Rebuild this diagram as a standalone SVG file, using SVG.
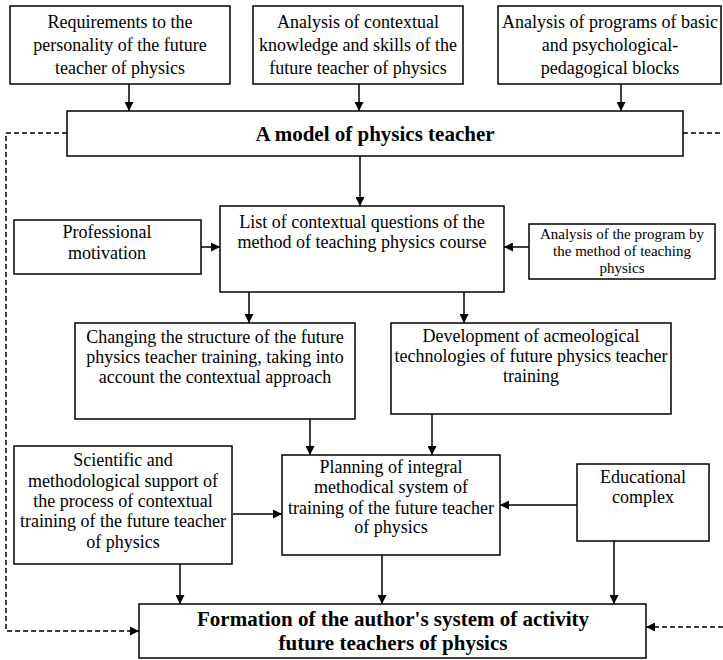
<svg xmlns="http://www.w3.org/2000/svg" width="723" height="660" viewBox="0 0 723 660">
<style>
.box{fill:#fff;stroke:#000;stroke-width:1.5}
.t{font-family:"Liberation Serif","Times New Roman",serif;font-size:18px;text-anchor:middle;fill:#000}
.s{font-size:15px}
.b{font-size:21px;font-weight:bold}
.c{stroke:#000;stroke-width:1.5;fill:none}
.d{stroke-dasharray:5,3}
</style>
<defs>
<marker id="ah" viewBox="0 0 10 10" markerUnits="userSpaceOnUse" markerWidth="9" markerHeight="9" refX="10" refY="5" orient="auto">
<path d="M0,0 L10,5 L0,10 Z" fill="#000"/>
</marker>
</defs>
<rect width="723" height="660" fill="#fff"/>
<g id="connectors">
<line class="c" x1="129" y1="84" x2="129" y2="111" marker-end="url(#ah)"/>
<line class="c" x1="359" y1="84" x2="359" y2="111" marker-end="url(#ah)"/>
<line class="c" x1="621" y1="84" x2="621" y2="111" marker-end="url(#ah)"/>
<line class="c" x1="360" y1="156" x2="360" y2="206" marker-end="url(#ah)"/>
<line class="c" x1="201" y1="247" x2="220" y2="247" marker-end="url(#ah)"/>
<line class="c" x1="529" y1="247" x2="504" y2="247" marker-end="url(#ah)"/>
<line class="c" x1="249" y1="292" x2="249" y2="323" marker-end="url(#ah)"/>
<line class="c" x1="464" y1="292" x2="464" y2="323" marker-end="url(#ah)"/>
<line class="c" x1="310" y1="419" x2="310" y2="455" marker-end="url(#ah)"/>
<line class="c" x1="432" y1="414" x2="432" y2="455" marker-end="url(#ah)"/>
<line class="c" x1="233" y1="514" x2="282" y2="514" marker-end="url(#ah)"/>
<line class="c" x1="577" y1="505" x2="500" y2="505" marker-end="url(#ah)"/>
<line class="c" x1="180" y1="564" x2="180" y2="604" marker-end="url(#ah)"/>
<line class="c" x1="382" y1="555" x2="382" y2="604" marker-end="url(#ah)"/>
<line class="c" x1="614" y1="541" x2="614" y2="604" marker-end="url(#ah)"/>
<polyline class="c d" points="67,133 6,133 6,631 139,631" marker-end="url(#ah)"/>
<line class="c d" x1="683" y1="133" x2="723" y2="133"/>
<line class="c d" x1="723" y1="627" x2="646" y2="627" marker-end="url(#ah)"/>
</g>
<g id="req">
<rect class="box" x="10" y="6" width="220" height="78"/>
<text class="t" x="120" y="28">Requirements to the</text>
<text class="t" x="120" y="51">personality of the future</text>
<text class="t" x="120" y="74">teacher of physics</text>
</g>
<g id="ctx">
<rect class="box" x="253" y="6" width="210" height="78"/>
<text class="t" x="358" y="28">Analysis of contextual</text>
<text class="t" x="358" y="51">knowledge and skills of the</text>
<text class="t" x="358" y="74">future teacher of physics</text>
</g>
<g id="prog">
<rect class="box" x="498" y="6" width="223" height="78"/>
<text class="t" x="610" y="28">Analysis of programs of basic</text>
<text class="t" x="610" y="51">and psychological-</text>
<text class="t" x="610" y="74">pedagogical blocks</text>
</g>
<g id="model">
<rect class="box" x="67" y="111" width="616" height="45"/>
<text class="t b" x="375" y="141">A model of physics teacher</text>
</g>
<g id="motiv">
<rect class="box" x="14" y="220" width="187" height="54"/>
<text class="t" x="107" y="238">Professional</text>
<text class="t" x="107" y="259">motivation</text>
</g>
<g id="list">
<rect class="box" x="220" y="206" width="284" height="86"/>
<text class="t" x="362" y="228">List of contextual questions of the</text>
<text class="t" x="362" y="248">method of teaching physics course</text>
</g>
<g id="method">
<rect class="box" x="529" y="224" width="186" height="55"/>
<text class="t s" x="622" y="239">Analysis of the program by</text>
<text class="t s" x="622" y="256">the method of teaching</text>
<text class="t s" x="622" y="273">physics</text>
</g>
<g id="changing">
<rect class="box" x="75" y="323" width="280" height="96"/>
<text class="t" x="215" y="343">Changing the structure of the future</text>
<text class="t" x="215" y="363">physics teacher training, taking into</text>
<text class="t" x="215" y="383">account the contextual approach</text>
</g>
<g id="development">
<rect class="box" x="391" y="323" width="280" height="91"/>
<text class="t" x="531" y="342">Development of acmeological</text>
<text class="t" x="531" y="362">technologies of future physics teacher</text>
<text class="t" x="531" y="382">training</text>
</g>
<g id="scientific">
<rect class="box" x="14" y="446" width="218" height="118"/>
<text class="t" x="123" y="466">Scientific and</text>
<text class="t" x="123" y="487">methodological support of</text>
<text class="t" x="123" y="507">the process of contextual</text>
<text class="t" x="123" y="527">training of the future teacher</text>
<text class="t" x="123" y="548">of physics</text>
</g>
<g id="planning">
<rect class="box" x="282" y="455" width="218" height="100"/>
<text class="t" x="391" y="473">Planning of integral</text>
<text class="t" x="391" y="493">methodical system of</text>
<text class="t" x="391" y="514">training of the future teacher</text>
<text class="t" x="391" y="533">of physics</text>
</g>
<g id="educational">
<rect class="box" x="577" y="464" width="132" height="77"/>
<text class="t" x="643" y="483">Educational</text>
<text class="t" x="643" y="503">complex</text>
</g>
<g id="formation">
<rect class="box" x="139" y="604" width="507" height="54"/>
<text class="t b" x="393" y="626">Formation of the author's system of activity</text>
<text class="t b" x="393" y="650">future teachers of physics</text>
</g>
</svg>
